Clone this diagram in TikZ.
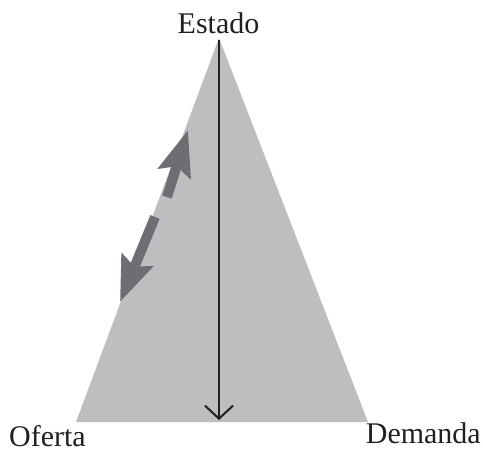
\documentclass[tikz,border=0pt]{standalone}
\usepackage{fontspec}
\setmainfont{Liberation Serif}
\usetikzlibrary{arrows.meta}
\definecolor{tri}{HTML}{BCBEC0}
\definecolor{darr}{HTML}{6D6E71}
\definecolor{ink}{HTML}{231F20}
\begin{document}
\begin{tikzpicture}[x=1pt,y=-1pt,
  lbl/.style={inner sep=0pt,text depth=0pt,text=ink,font=\fontsize{30}{32}\selectfont},
  grayarrow/.style={draw=darr,line width=10pt,-{Stealth[length=45pt,width=33pt,inset=7pt]}}]
\useasboundingbox (0,0) rectangle (483,451);
\coordinate (apex) at (219,38);
\coordinate (bl) at (76,422);
\coordinate (br) at (368,422);
\fill[tri] (apex) -- (bl) -- (br) -- cycle;
\coordinate (vtop) at (219,40);
\coordinate (vbot) at (219,420);
\draw[ink,line width=2pt,-{Straight Barb[length=13pt,width=28pt,line width=2pt]}] (vtop) -- (vbot);
\coordinate (a1s) at (167,197);
\coordinate (a1t) at (188,130);
\coordinate (a2s) at (155,217);
\coordinate (a2t) at (120,302);
\draw[grayarrow] (a1s) -- (a1t);
\draw[grayarrow] (a2s) -- (a2t);
\node[lbl,anchor=base] (estado) at (218.5,33) {Estado};
\node[lbl,anchor=base west] (oferta) at (9,446) {Oferta};
\node[lbl,anchor=base east] (demanda) at (481,443) {Demanda};
\end{tikzpicture}
\end{document}
